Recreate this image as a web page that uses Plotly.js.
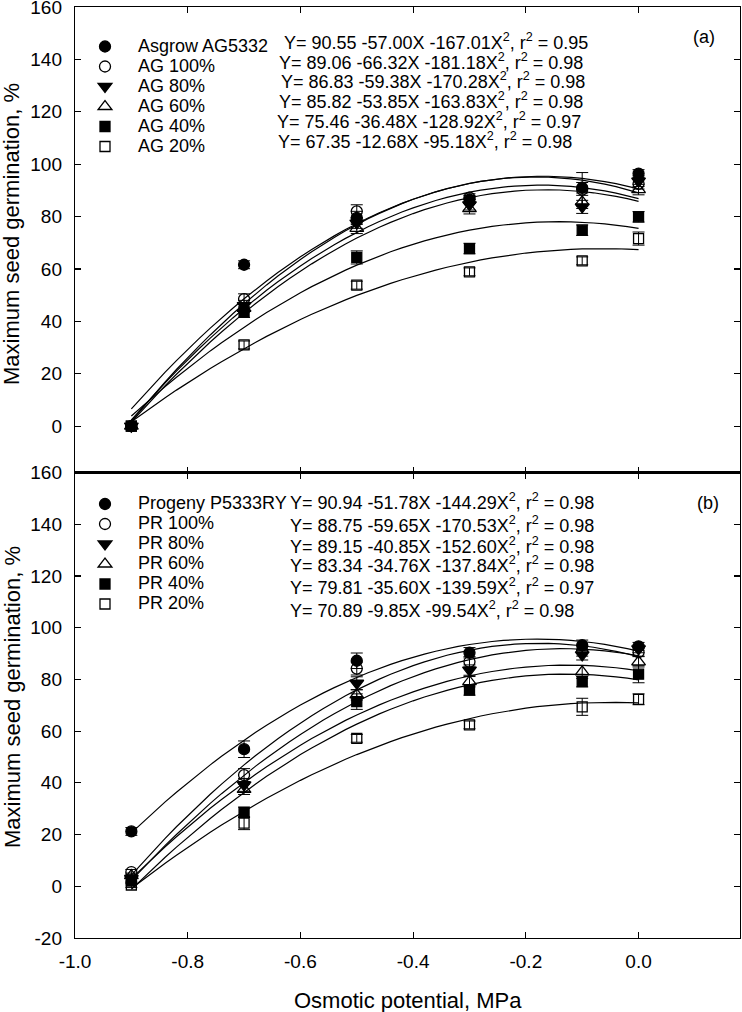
<!DOCTYPE html>
<html>
<head>
<meta charset="utf-8">
<script src="https://cdn.plot.ly/plotly-3.0.1.min.js"></script>
<style>
  body { margin: 0; background: #fff; }
  #chart { width: 742px; height: 1012px; }
</style>
</head>
<body>
<div id="chart"></div>
<script>
// osmotic potential levels (MPa)
var potential = [-0.9, -0.7, -0.5, -0.3, -0.1, 0.0];

// panel (a): Asgrow AG5332
var agNames = ["Asgrow AG5332", "AG 100%", "AG 80%", "AG 60%", "AG 40%", "AG 20%"];
var agMean = [
  [0, 61.6, 79.5, 86.5, 91.0, 96.4],
  [0, 48.5, 82.0, 87.2, 90.3, 92.5],
  [0, 46.0, 77.5, 84.5, 83.7, 93.5],
  [0, 45.0, 75.5, 83.0, 85.6, 90.3],
  [0, 43.5, 64.4, 67.8, 74.8, 79.9],
  [0, 31.0, 53.8, 58.9, 63.1, 71.6]
];
var agErr = [
  [0.6, 1.5, 2.5, 1.5, 2.0, 1.5],
  [0.6, 2.0, 2.5, 1.5, 6.5, 2.0],
  [0.6, 2.0, 2.0, 2.0, 2.5, 2.0],
  [0.6, 1.5, 2.0, 2.0, 2.5, 2.0],
  [0.6, 2.0, 2.5, 2.0, 2.0, 2.0],
  [1.0, 1.5, 1.5, 1.5, 1.5, 2.5]
];
// fitted Y = b0 + b1*X + b2*X^2
var agB0 = [90.55, 89.06, 86.83, 85.82, 75.46, 67.35];
var agB1 = [-57.00, -66.32, -59.38, -53.85, -36.48, -12.68];
var agB2 = [-167.01, -181.18, -170.28, -163.83, -128.92, -95.18];
var agR2 = ["0.95", "0.98", "0.98", "0.98", "0.97", "0.98"];

// panel (b): Progeny P5333RY
var prNames = ["Progeny P5333RY", "PR 100%", "PR 80%", "PR 60%", "PR 40%", "PR 20%"];
var prMean = [
  [21.2, 53.0, 87.2, 90.3, 93.2, 92.8],
  [5.5, 43.0, 84.2, 86.8, 91.0, 90.5],
  [3.0, 39.2, 78.5, 83.6, 89.5, 91.8],
  [4.1, 37.5, 74.0, 79.1, 82.9, 86.8],
  [2.0, 28.6, 71.4, 75.9, 79.1, 82.0],
  [0.5, 24.4, 57.2, 62.4, 69.4, 72.3]
];
var prErr = [
  [1.5, 3.2, 3.0, 2.0, 2.0, 1.5],
  [1.0, 2.5, 2.5, 2.0, 2.0, 1.5],
  [1.0, 2.5, 2.5, 2.0, 2.0, 1.5],
  [1.0, 2.0, 2.0, 2.0, 2.5, 2.0],
  [1.0, 2.0, 3.0, 2.0, 2.0, 3.3],
  [1.0, 2.5, 1.5, 1.5, 3.3, 2.1]
];
var prB0 = [90.94, 88.75, 89.15, 83.34, 79.81, 70.89];
var prB1 = [-51.78, -59.65, -40.85, -34.76, -35.60, -9.85];
var prB2 = [-144.29, -170.53, -152.60, -137.84, -139.59, -99.54];
var prR2 = ["0.98", "0.98", "0.98", "0.98", "0.97", "0.98"];

var xTickVals = [-1.0, -0.8, -0.6, -0.4, -0.2, 0.0];
var xTickText = ["-1.0", "-0.8", "-0.6", "-0.4", "-0.2", "0.0"];
var yTickVals = [-20, 0, 20, 40, 60, 80, 100, 120, 140, 160];
var yTickText = ["-20", "0", "20", "40", "60", "80", "100", "120", "140", "160"];

var symbols = ["circle", "circle-open", "triangle-down", "triangle-up-open", "square", "square-open"];
var sizes = [11, 11, 12, 12, 10, 10];
// draw order of the marker series (later = on top)
var order = [0, 2, 4, 3, 5, 1];

var FONT = "Liberation Sans, Arial, sans-serif";

// plot area in pixels, used to place texts in paper coords
var L = 75, R = 740, T = 7, B = 938;
function px(x) { return (x - L) / (R - L); }
function py(y) { return (B - y) / (B - T); }

function fmt(v) {
  var s = Math.abs(v).toFixed(2);
  return (v < 0 ? "-" : "") + s;
}
function eqText(b0, b1, b2, r2) {
  return "Y= " + b0.toFixed(2) + " " + fmt(b1) + "X " + fmt(b2) + "X<sup>2</sup>, r<sup>2</sup> = " + r2;
}

var data = [];

function addPanel(names, mean, err, b0, b1, b2, xa, ya, leg) {
  // fitted curves
  for (var i = 0; i < names.length; i++) {
    var cx = [], cy = [];
    for (var k = 0; k <= 45; k++) {
      var x = -0.9 + k * 0.02;
      cx.push(x);
      cy.push(b0[i] + b1[i] * x + b2[i] * x * x);
    }
    data.push({
      type: "scatter", mode: "lines", x: cx, y: cy,
      xaxis: xa, yaxis: ya, showlegend: false, hoverinfo: "skip",
      line: { color: "black", width: 1.2 }
    });
  }
  // observed means with error bars
  for (var n = 0; n < order.length; n++) {
    var j = order[n];
    data.push({
      type: "scatter", mode: "markers",
      name: '<span style="font-size:18px">' + names[j] + "</span>",
      legendrank: j + 1,
      x: potential, y: mean[j],
      xaxis: xa, yaxis: ya, legend: leg,
      error_y: { type: "data", array: err[j], visible: true, color: "black", thickness: 1, width: 6 },
      marker: {
        symbol: symbols[j], size: sizes[j], color: "black",
        line: { color: "black", width: 1.3 }
      }
    });
  }
}

addPanel(agNames, agMean, agErr, agB0, agB1, agB2, "x", "y", "legend");
addPanel(prNames, prMean, prErr, prB0, prB1, prB2, "x2", "y2", "legend2");

function note(x, y, text, size, angle) {
  return {
    xref: "paper", yref: "paper", x: px(x), y: py(y),
    xanchor: "center", yanchor: "middle", showarrow: false,
    textangle: angle || 0, text: text,
    font: { family: FONT, size: size, color: "black" }
  };
}

var annotations = [];
var agEqX = [281.7, 277.3, 279.3, 276.7, 275, 276];
var agEqY = [41.5, 61.2, 80.9, 100.6, 120.3, 140];
var prEqY = [501.7, 524, 545.7, 564.3, 586.7, 609.3];
for (var i = 0; i < 6; i++) {
  annotations.push({
    xref: "paper", yref: "paper", x: px(agEqX[i]), y: py(agEqY[i]),
    xanchor: "left", yanchor: "middle", showarrow: false,
    text: eqText(agB0[i], agB1[i], agB2[i], agR2[i]),
    font: { family: FONT, size: 18, color: "black" }
  });
  annotations.push({
    xref: "paper", yref: "paper", x: px(288), y: py(prEqY[i]),
    xanchor: "left", yanchor: "middle", showarrow: false,
    text: eqText(prB0[i], prB1[i], prB2[i], prR2[i]),
    font: { family: FONT, size: 18, color: "black" }
  });
}
annotations.push(note(704, 37, "(a)", 18));
annotations.push(note(708, 503, "(b)", 18));
annotations.push(note(12, 234, "Maximum seed germination, %", 22, -90));
annotations.push(note(12, 697, "Maximum seed germination, %", 22, -90));
annotations.push(note(408, 1000, "Osmotic potential, MPa", 22));

var xBase = {
  range: [-1.0, 0.18], tickvals: xTickVals, ticktext: xTickText,
  ticks: "inside", ticklen: 6, tickwidth: 1.2, tickcolor: "black",
  showline: true, linecolor: "black", linewidth: 1.2, mirror: "ticks",
  showgrid: false, zeroline: false, ticklabelstandoff: 6, ticklabeloverflow: "allow",
  tickfont: { family: FONT, size: 19, color: "black" }
};
var yBase = {
  tickvals: yTickVals, ticktext: yTickText,
  ticks: "inside", ticklen: 6, tickwidth: 1.2, tickcolor: "black",
  showline: true, linecolor: "black", linewidth: 1.2, mirror: "ticks",
  showgrid: false, zeroline: false, ticklabelstandoff: 8, ticklabeloverflow: "allow",
  tickfont: { family: FONT, size: 19, color: "black" }
};

var layout = {
  width: 742, height: 1012,
  margin: { l: L, r: 742 - R, t: T, b: 1012 - B },
  paper_bgcolor: "white", plot_bgcolor: "white",
  font: { family: FONT, color: "black" },
  xaxis: Object.assign({}, xBase, { anchor: "y", showticklabels: false }),
  yaxis: Object.assign({}, yBase, { anchor: "x", domain: [0.5, 1], range: [-17.7, 160] }),
  xaxis2: Object.assign({}, xBase, { anchor: "y2" }),
  yaxis2: Object.assign({}, yBase, { anchor: "x2", domain: [0, 0.5], range: [-20, 160] }),
  legend: {
    x: px(72), y: py(31.5), xanchor: "left", yanchor: "top",
    bgcolor: "rgba(0,0,0,0)", borderwidth: 0, itemwidth: 56, tracegroupgap: 0,
    font: { family: FONT, size: 13.08, color: "black" }
  },
  legend2: {
    x: px(72), y: py(489), xanchor: "left", yanchor: "top",
    bgcolor: "rgba(0,0,0,0)", borderwidth: 0, itemwidth: 56, tracegroupgap: 0,
    font: { family: FONT, size: 13.08, color: "black" }
  },
  annotations: annotations
};

Plotly.newPlot("chart", data, layout, { staticPlot: true, displayModeBar: false });
</script>
</body>
</html>
